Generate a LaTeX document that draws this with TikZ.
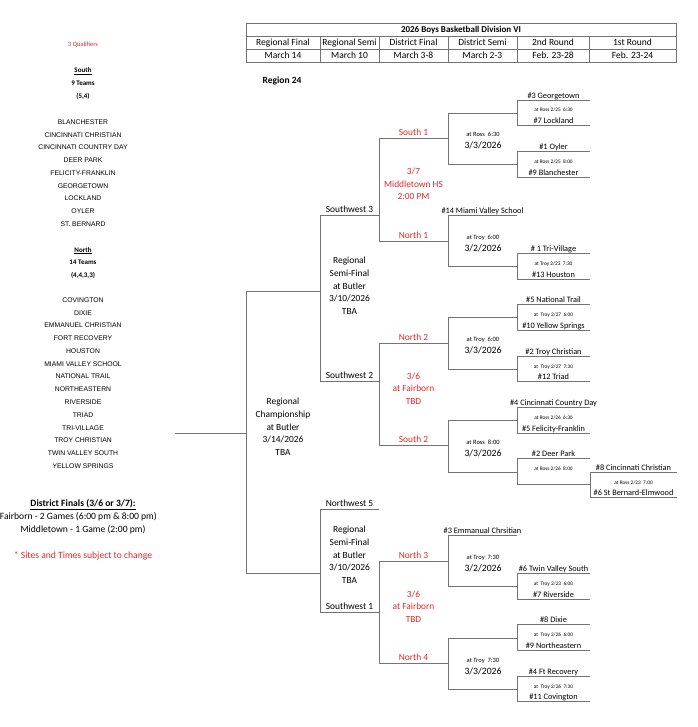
\documentclass[tikz,border=0pt]{standalone}
\usepackage{fontspec}
\setmainfont{Carlito}
\newfontfamily\listfont{Liberation Sans}
\usepackage{tikz}
\definecolor{brkgray}{RGB}{115,115,115}
\definecolor{brkred}{RGB}{225,40,40}

\tikzset{
  bline/.style={draw=brkgray, line width=0.85pt},
  tx/.style={inner sep=0pt, text height=0.7em, text depth=0.1em},
  hdr/.style={tx, font=\fontsize{9.5}{11}\selectfont},
  rnd/.style={tx, font=\fontsize{9.4}{11}\selectfont},
  team/.style={tx, font=\fontsize{8.3}{10}\selectfont},
  gameinfo/.style={tx, font=\fontsize{5.3}{6}\selectfont},
  siteinfo/.style={tx, font=\fontsize{6.5}{8}\selectfont},
  gdate/.style={tx, font=\fontsize{9.7}{11}\selectfont},
  block/.style={inner sep=0pt, align=center, font=\fontsize{9.4}{12.7}\selectfont},
  note/.style={tx, font=\fontsize{9.6}{11}\selectfont},
  side/.style={tx, font=\bfseries\fontsize{7}{8}\selectfont},
  redtx/.style={text=brkred},
  teamlist/.style={inner sep=0pt, align=center, font=\listfont\fontsize{6.8}{12.77}\selectfont},
}

% one game: name, x left, x right, y top, y bottom, top team, site, bottom team
\newcommand{\pairing}[8]{%
  \draw[bline] (#2,#4) -- (#3,#4) (#2,#4) -- (#2,#5) -- (#3,#5);
  \node[team] (#1-a) at ({(#2+#3)/2},#4-4.5) {#6};
  \node[gameinfo] (#1-i) at ({(#2+#3)/2},{(#4+#5)/2-3.5}) {#7};
  \node[team] (#1-b) at ({(#2+#3)/2},#5-4.5) {#8};
}
% district semi: name, y top, y bottom, top team, site, date
\newcommand{\distsemi}[6]{%
  \draw[bline] (517,#2) -- (448,#2) -- (448,#3) -- (517,#3);
  \node[team] (#1-a) at (482.5,#2-4.5) {#4};
  \node[siteinfo] (#1-i) at (483,{(#2+#3)/2-4.5}) {#5};
  \node[gdate] (#1-d) at (483,{(#2+#3)/2+7.5}) {#6};
}
% district final: name, y top, y bottom, top label, bottom label, site block
\newcommand{\distfinal}[6]{%
  \draw[bline] (448,#2) -- (379,#2) -- (379,#3) -- (448,#3);
  \node[rnd, redtx] (#1-a) at (413.5,#2-5.5) {#4};
  \node[rnd, redtx] (#1-b) at (413.5,#3-5.5) {#5};
  \node[block, redtx] (#1-s) at (413.5,{(#2+#3)/2-5.5}) {#6};
}

\begin{document}
\begin{tikzpicture}[x=1pt, y=-1pt]
  \useasboundingbox (0,0) rectangle (697,727);

  % header table
  \draw[bline] (246,23) rectangle (676,62);
  \draw[bline] (246,36) -- (676,36) (246,49) -- (676,49);
  \foreach \x in {320,379,448,517,589}
    \draw[bline] (\x,36) -- (\x,62);
  \node[hdr, font=\bfseries\fontsize{9}{11}\selectfont] (title) at (461,29.5) {2026 Boys Basketball Division VI};
  \foreach \cx/\rname/\rdate in {283/Regional Final/March 14, 349.5/Regional Semi/March 10,
      413.5/District Final/March 3-8, 482.5/District Semi/March 2-3,
      553/2nd Round/Feb. 23-28, 632.5/1st Round/Feb. 23-24} {
    \node[hdr] (rnd\cx) at (\cx,42.5) {\rname};
    \node[hdr] (date\cx) at (\cx,55.5) {\rdate};
  }
  \node[hdr, font=\bfseries\fontsize{9.5}{11}\selectfont] (region) at (282,81) {Region 24};

  % left column
  \node[tx, redtx, font=\fontsize{6.5}{8}\selectfont] (qual) at (83,44) {3 Qualifiers};
  \node[side] (south) at (83,70) {\underline{South}};
  \node[side] (southn) at (83,82.5) {9 Teams};
  \node[side] (southp) at (83,95.5) {(5,4)};
  \node[teamlist] (southlist) at (83,173) {BLANCHESTER\\CINCINNATI CHRISTIAN\\CINCINNATI COUNTRY DAY\\DEER PARK\\
    FELICITY-FRANKLIN\\GEORGETOWN\\LOCKLAND\\OYLER\\ST. BERNARD};
  \node[side] (north) at (83,249) {\underline{North}};
  \node[side] (northn) at (83,261.5) {14 Teams};
  \node[side] (northp) at (83,274) {(4,4,3,3)};
  \node[teamlist] (northlist) at (83,383) {COVINGTON\\DIXIE\\EMMANUEL CHRISTIAN\\FORT RECOVERY\\HOUSTON\\
    MIAMI VALLEY SCHOOL\\NATIONAL TRAIL\\NORTHEASTERN\\RIVERSIDE\\TRIAD\\TRI-VILLAGE\\
    TROY CHRISTIAN\\TWIN VALLEY SOUTH\\YELLOW SPRINGS};
  \node[note, font=\bfseries\fontsize{9.6}{11}\selectfont] (dfin) at (83,503) {\underline{District Finals (3/6 or 3/7):}};
  \node[note, anchor=east] (fair) at (157,516) {Fairborn - 2 Games (6:00 pm \& 8:00 pm)};
  \node[note] (midt) at (83,529) {Middletown - 1 Game (2:00 pm)};
  \node[note, redtx] (sites) at (83,555) {* Sites and Times subject to change};

  % regional final
  \draw[bline] (175,433) -- (246,433);
  \draw[bline] (320,291) -- (246,291) -- (246,573) -- (320,573);
  \node[block] (rfinal) at (283,427) {Regional\\Championship\\at Butler\\3/14/2026\\TBA};

  % regional semis
  \draw[bline] (379,215) -- (320,215) -- (320,381) -- (379,381);
  \node[rnd] (sw3) at (349.5,209.5) {Southwest 3};
  \node[rnd] (sw2) at (349.5,375.5) {Southwest 2};
  \node[block] (rsemi1) at (349.5,286) {Regional\\Semi-Final\\at Butler\\3/10/2026\\TBA};
  \draw[bline] (379,509) -- (320,509) -- (320,612) -- (379,612);
  \node[rnd] (nw5) at (349.5,503.5) {Northwest 5};
  \node[rnd] (sw1) at (349.5,606.5) {Southwest 1};
  \node[block] (rsemi2) at (349.5,555) {Regional\\Semi-Final\\at Butler\\3/10/2026\\TBA};

  % district finals
  \distfinal{df1}{138}{241}{South 1}{North 1}{3/7\\Middletown HS\\2:00 PM}
  \distfinal{df2}{343}{445}{North 2}{South 2}{3/6\\at Fairborn\\TBD}
  \distfinal{df3}{561}{663}{North 3}{North 4}{3/6\\at Fairborn\\TBD}

  % district semis
  \distsemi{ds1}{113}{164}{}{at Ross\ \ 6:30}{3/3/2026}
  \distsemi{ds2}{215}{266}{\#14 Miami Valley School}{at Troy\ \ 6:00}{3/2/2026}
  \distsemi{ds3}{317}{369}{}{at Troy\ \ 6:00}{3/3/2026}
  \distsemi{ds4}{420}{472}{}{at Ross\ \ 8:00}{3/3/2026}
  \distsemi{ds5}{535}{586}{\#3 Emmanual Chrsitian}{at Troy\ \ 7:30}{3/2/2026}
  \distsemi{ds6}{638}{689}{}{at Troy\ \ 7:30}{3/3/2026}

  % second and first round
  \pairing{ga}{517}{590}{100}{125}{\#3 Georgetown}{at Ross 2/25\ \ 6:30}{\#7 Lockland}
  \pairing{gb}{517}{590}{151}{177}{\#1 Oyler}{at Ross 2/25\ \ 8:00}{\#9 Blanchester}
  \pairing{gc}{517}{590}{253}{279}{\# 1 Tri-Village}{at Troy 2/23\ \ 7:30}{\#13 Houston}
  \pairing{gd}{517}{590}{304}{330}{\#5 National Trail}{at\ \ Troy 2/27\ \ 6:00}{\#10 Yellow Springs}
  \pairing{ge}{517}{590}{356}{381}{\#2 Troy Christian}{at\ \ Troy 2/27\ \ 7:30}{\#12 Triad}
  \pairing{gf}{517}{590}{407}{433}{\#4 Cincinnati Country Day}{at Ross 2/26\ \ 6:30}{\#5 Felicity-Franklin}
  \pairing{gg}{517}{590}{458}{484}{\#2 Deer Park}{at Ross 2/26\ \ 8:00}{}
  \pairing{gh}{590}{677}{472}{497}{\#8 Cincinnati Christian}{at Ross 2/23\ \ 7:00}{\#6 St Bernard-Elmwood}
  \pairing{gi}{517}{590}{573}{599}{\#6 Twin Valley South}{at\ \ Troy 2/23\ \ 6:00}{\#7 Riverside}
  \pairing{gj}{517}{590}{624}{650}{\#8 Dixie}{at\ \ Troy 2/26\ \ 6:00}{\#9 Northeastern}
  \pairing{gk}{517}{590}{676}{701}{\#4 Ft Recovery}{at\ \ Troy 2/26\ \ 7:30}{\#11 Covington}
\end{tikzpicture}
\end{document}
